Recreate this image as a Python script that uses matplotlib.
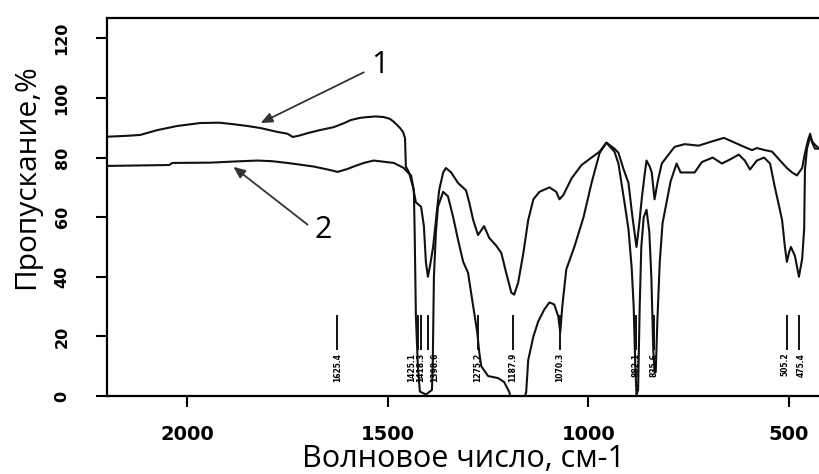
import matplotlib
matplotlib.use('Agg')
import matplotlib.pyplot as plt

# ── Spectra (wavenumber, cm-1 / transmittance, %) ─────────────────────────
wn1 = [2200, 2150, 2117, 2075, 2025, 1967, 1920, 1885, 1850, 1817, 1775, 1750,
       1737, 1720, 1700, 1670, 1635, 1610, 1592, 1570, 1550, 1530, 1510, 1495,
       1485, 1470, 1462, 1457, 1455, 1447, 1437, 1430, 1417, 1410, 1405, 1400,
       1395, 1387, 1380, 1372, 1362, 1355, 1342, 1325, 1305, 1297, 1287, 1275,
       1260, 1247, 1230, 1217, 1205, 1192, 1185, 1175, 1162, 1150, 1137, 1122,
       1097, 1080, 1072, 1062, 1042, 1017, 992, 972, 955, 935, 925, 912, 900,
       890, 880, 873, 867, 860, 855, 847, 842, 835, 827, 817, 800, 785, 760,
       725, 690, 662, 635, 610, 592, 580, 560, 542, 522, 505, 492, 480, 467,
       460, 452, 447, 442, 435, 425]
t1 = [87.0, 87.3, 87.6, 89.2, 90.6, 91.6, 91.7, 91.2, 90.6, 89.9, 88.6, 88.0,
      86.9, 87.4, 88.2, 89.2, 90.2, 91.5, 92.6, 93.3, 93.6, 93.8, 93.6, 93.0,
      92.0, 90.0, 88.6, 86.5, 77.0, 75.0, 70.0, 65.0, 63.5, 57.0, 45.0, 40.0,
      43.5, 50.0, 59.0, 69.0, 75.0, 76.5, 75.0, 71.5, 69.0, 65.0, 59.0, 54.0,
      57.0, 53.0, 50.5, 48.0, 41.4, 34.7, 34.0, 38.0, 48.0, 59.0, 66.0, 68.5,
      70.0, 68.5, 66.0, 67.5, 73.0, 77.5, 80.0, 82.0, 85.0, 83.0, 81.6, 76.0, 71.5,
      60.0, 50.0, 58.0, 66.0, 74.0, 79.0, 77.0, 75.0, 66.0, 72.0, 78.0, 81.0, 83.6, 84.5,
      84.0, 85.5, 86.6, 85.0, 83.5, 82.5, 83.2, 82.5, 82.0, 79.0, 76.5, 75.0, 74.0, 76.5,
      81.5, 86.0, 88.0, 85.0, 83.0, 83.0]

wn2 = [2200, 2045, 2037, 1942, 1880, 1825, 1790, 1750, 1685, 1650, 1625, 1600,
       1585, 1560, 1535, 1510, 1485, 1460, 1450, 1442, 1435, 1433, 1430, 1425,
       1420, 1405, 1390, 1388, 1385, 1380, 1375, 1362, 1350, 1337, 1325, 1312,
       1300, 1287, 1277, 1272, 1267, 1250, 1225, 1210, 1197, 1190, 1165, 1155,
       1150, 1137, 1125, 1110, 1097, 1085, 1075, 1070, 1065, 1055, 1035, 1012,
       992, 972, 955, 935, 925, 910, 900, 892, 887, 883, 880, 876, 872, 868,
       862, 855, 848, 843, 838, 835, 832, 828, 822, 815, 805, 795, 780, 770,
       735, 717, 690, 667, 645, 625, 610, 597, 580, 562, 547, 535, 525, 517,
       510, 505, 500, 495, 485, 475, 467, 462, 460, 455, 447, 440, 425]
t2 = [77.2, 77.5, 78.2, 78.3, 78.7, 79.0, 78.8, 78.2, 77.0, 76.0, 75.2, 76.2,
      77.0, 78.2, 79.0, 78.6, 78.2, 76.5, 75.0, 74.0, 69.0, 55.0, 27.0, 10.0,
      1.5, 0.5, 2.0, 10.0, 40.0, 55.0, 63.5, 68.5, 67.0, 60.0, 52.5, 45.0,
      41.4, 30.0, 21.4, 14.7, 10.0, 6.7, 6.0, 4.7, 1.3, -3.0, -3.0, 1.3,
      12.0, 20.0, 25.0, 29.0, 31.4, 30.7, 26.7, 21.4, 30.0, 42.5, 50.0, 60.0,
      71.5, 81.5, 85.0, 82.0, 78.0, 65.0, 56.0, 43.0, 30.0, 10.0, 0.5, 2.0, 30.0, 50.0,
      60.0, 62.5, 55.0, 40.0, 15.0, 8.0, 8.0, 25.0, 45.0, 58.0, 65.0, 72.0, 78.0, 75.0,
      75.0, 78.5, 80.0, 78.0, 79.5, 81.0, 79.0, 76.0, 79.0, 80.0, 78.0, 70.0, 64.0, 59.0,
      50.0, 45.0, 48.0, 50.0, 47.0, 40.0, 46.0, 56.0, 76.0, 83.0, 87.0, 85.0, 83.0]

# marked absorption bands of spectrum 2
peaks = [1625.4, 1425.1, 1418.3, 1398.6, 1275.2, 1187.9, 1070.3, 882.1, 835.6, 505.2, 475.4]
# small sideways shift of crowded peak labels (cm-1)
label_shift = [0, 16, 0, -16, 0, 0, 0, 0, 0, 5, -5]

x_ticks = [2000, 1500, 1000, 500]
y_ticks = [0, 20, 40, 60, 80, 100, 120]

# ── Figure ─────────────────────────────────────────────────────────────────
W, H = 819, 474
fig = plt.figure(figsize=(W / 100, H / 100), dpi=100)
ax = fig.add_axes([107 / W, 78 / H, (W - 107) / W, (456.5 - 78) / H])

ax.plot(wn1, t1, color='#111111', lw=1.5)
ax.plot(wn2, t2, color='#111111', lw=1.5)

for p, dx in zip(peaks, label_shift):
    ax.plot([p, p], [15.7, 26.8], color='#111111', lw=1.4)
    ax.text(p + dx, 14.5, f'{p:.1f}', rotation=90, ha='center', va='top',
            fontsize=5.5, fontweight='bold', family='DejaVu Sans')

# curve labels with arrows
arrow_kw = dict(arrowstyle='-|>,head_length=0.7,head_width=0.3',
                color='#333333', lw=1.3, shrinkA=0, shrinkB=0)
ax.annotate('', xy=(1817, 91.6), xytext=(1560, 108.6), arrowprops=arrow_kw)
ax.text(1520, 111, '1', fontsize=22, family='Open Sans', ha='center', va='center')
ax.annotate('', xy=(1885, 76.9), xytext=(1700, 57.5), arrowprops=arrow_kw)
ax.text(1662, 55.8, '2', fontsize=22, family='Open Sans', ha='center', va='center')

ax.set_xlim(2200, 425)
ax.set_ylim(0, 127)
ax.set_xticks(x_ticks)
ax.set_yticks(y_ticks)
ax.tick_params(axis='x', length=8, width=1.5, pad=13, labelsize=14)
ax.tick_params(axis='y', length=8, width=1.5, pad=19, labelsize=11.5, labelrotation=90)
for lab in ax.get_xticklabels() + ax.get_yticklabels():
    lab.set_fontweight('bold')
for lab in ax.get_yticklabels():
    lab.set_va('center')

ax.spines['right'].set_visible(False)
for s in ['left', 'top', 'bottom']:
    ax.spines[s].set_linewidth(1.6)

ax.set_xlabel('Волновое число, см-1', fontsize=22, family='Open Sans', labelpad=0)
fig.text(27 / W, 1 - 177 / H, 'Пропускание,%', rotation=90, fontsize=21.5,
         family='Open Sans', ha='center', va='center')

plt.savefig('out.png', dpi=100)
plt.close()
